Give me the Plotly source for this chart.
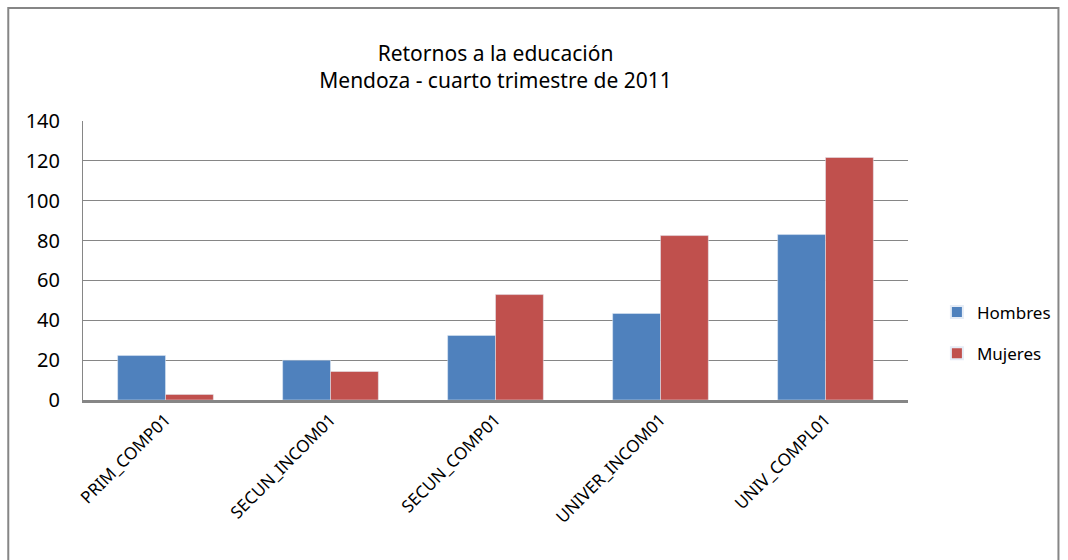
import plotly.graph_objects as go

categories = ["PRIM_COMP01", "SECUN_INCOM01", "SECUN_COMP01", "UNIVER_INCOM01", "UNIV_COMPL01"]
hombres = [22.3, 20.0, 32.4, 43.4, 83.0]
mujeres = [2.8, 14.3, 52.9, 82.5, 121.7]
y_ticks = [0, 20, 40, 60, 80, 100, 120, 140]

W, H = 1068, 560
L, R, T, B = 83, 157, 121, 160
pw, ph = W - L - R, H - T - B

def px_x(p):
    return (p - L) / pw

def px_y(p):
    return (H - B - p) / ph

font = "Noto Sans"
fig = go.Figure()
fig.add_trace(go.Bar(x=categories, y=hombres, name="Hombres", marker_color="#4F81BD", legendgroup="h"))
fig.add_trace(go.Bar(x=categories, y=mujeres, name="Mujeres", marker_color="#C0504D", legendgroup="m"))

fig.update_layout(
    width=W, height=H,
    margin=dict(l=L, r=R, t=T, b=B),
    paper_bgcolor="white", plot_bgcolor="white",
    barmode="group", bargap=0.42, bargroupgap=0,
    font=dict(family=font, color="black"),
    title=dict(text="Retornos a la educación<br>Mendoza - cuarto trimestre de 2011",
               x=0.5, xanchor="center", xref="paper", y=(H - 61) / H, yanchor="middle",
               font=dict(size=21, family=font, color="black")),
    legend=dict(x=px_x(940), y=px_y(333), xanchor="left", yanchor="middle",
                font=dict(size=17, family=font), tracegroupgap=16, itemsizing="constant",
                bgcolor="rgba(0,0,0,0)"),
    xaxis=dict(tickangle=-45, tickfont=dict(size=17, family=font), showline=True,
               linecolor="#868686", linewidth=3, ticks="", showgrid=False),
    yaxis=dict(range=[0, 140], tickvals=y_ticks, tickfont=dict(size=20, family=font),
               showgrid=True, gridcolor="#868686", gridwidth=1, showline=True,
               linecolor="#868686", linewidth=1, ticks="", zeroline=False,
               ticklabelstandoff=18),
    shapes=[dict(type="rect", xref="paper", yref="paper",
                 x0=px_x(8), x1=px_x(1062), y0=px_y(600), y1=px_y(8),
                 line=dict(color="#868686", width=2), fillcolor="rgba(0,0,0,0)", layer="below")],
)

fig.write_html("out.html")
